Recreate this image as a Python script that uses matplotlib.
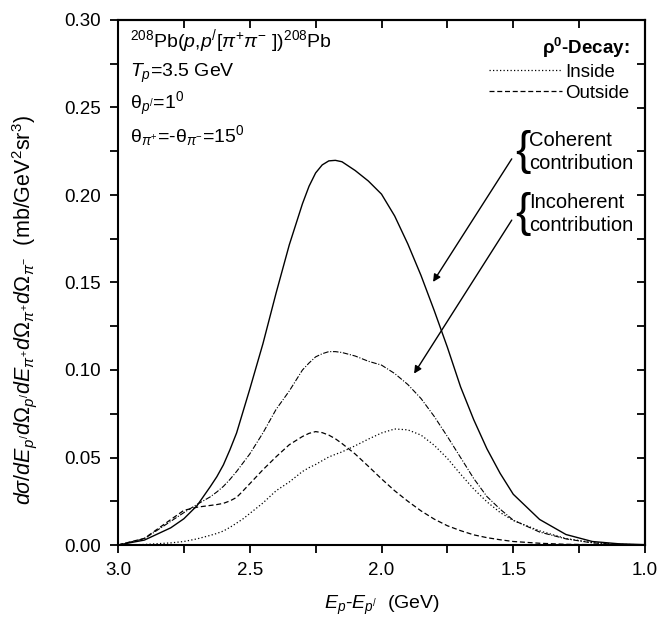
import matplotlib.pyplot as plt
from matplotlib.lines import Line2D
from matplotlib.ticker import MultipleLocator, FormatStrFormatter

plt.rcParams['font.family'] = ['Liberation Sans', 'DejaVu Sans']
plt.rcParams['mathtext.fontset'] = 'custom'
plt.rcParams['mathtext.rm'] = 'Liberation Sans'
plt.rcParams['mathtext.it'] = 'Liberation Sans:italic'
plt.rcParams['mathtext.bf'] = 'Liberation Sans:bold'

# E_p - E_p' (GeV)
energy = [3.0, 2.9, 2.8, 2.75, 2.7, 2.65, 2.625, 2.6, 2.575, 2.55, 2.525, 2.5, 2.45, 2.4,
          2.35, 2.3, 2.275, 2.25, 2.225, 2.2, 2.175, 2.15, 2.1, 2.05, 2.0, 1.95, 1.9,
          1.85, 1.8, 1.75, 1.7, 1.65, 1.6, 1.55, 1.5, 1.4, 1.3, 1.2, 1.1, 1.0]
# coherent contribution (solid)
coherent = [0.0, 0.0028, 0.0098, 0.015, 0.0225, 0.0333, 0.039, 0.0458, 0.0545, 0.064,
            0.0765, 0.089, 0.115, 0.144, 0.1715, 0.195, 0.205, 0.2126, 0.2172, 0.2195,
            0.2198, 0.219, 0.214, 0.208, 0.2005, 0.188, 0.172, 0.154, 0.134, 0.113,
            0.0904, 0.0716, 0.055, 0.041, 0.029, 0.0146, 0.006, 0.002, 0.0007, 0.0002]
# incoherent contribution (dash-dot)
incoherent = [0.0, 0.0036, 0.0135, 0.0185, 0.0232, 0.0275, 0.0303, 0.0335, 0.0375, 0.042,
              0.047, 0.052, 0.064, 0.0775, 0.088, 0.100, 0.104, 0.1075, 0.1093, 0.1105,
              0.1105, 0.110, 0.108, 0.105, 0.1028, 0.098, 0.0917, 0.0837, 0.0735, 0.062,
              0.050, 0.038, 0.0277, 0.0205, 0.0142, 0.0074, 0.0035, 0.0012, 0.0003, 0.0001]
# rho0 decay outside (dashed)
outside = [0.0, 0.0038, 0.0145, 0.0198, 0.0216, 0.0226, 0.0231, 0.0238, 0.0252, 0.0272,
           0.031, 0.035, 0.043, 0.0504, 0.0573, 0.062, 0.0638, 0.0648, 0.0642, 0.0628,
           0.0607, 0.058, 0.052, 0.045, 0.0378, 0.031, 0.025, 0.0195, 0.0148, 0.011,
           0.0082, 0.0058, 0.0042, 0.003, 0.002, 0.001, 0.0004, 0.0002, 0.0001, 0.0]
# rho0 decay inside (dotted)
inside = [0.0, 0.0003, 0.0012, 0.002, 0.0035, 0.0055, 0.0066, 0.008, 0.0101, 0.0125,
          0.015, 0.018, 0.024, 0.031, 0.036, 0.042, 0.0442, 0.046, 0.0482, 0.0503,
          0.0518, 0.0532, 0.0567, 0.0605, 0.064, 0.0663, 0.0658, 0.0628, 0.057, 0.0495,
          0.0405, 0.032, 0.0247, 0.0186, 0.014, 0.0081, 0.0037, 0.0014, 0.0004, 0.0001]

fig = plt.figure(figsize=(6.6, 6.29), dpi=100)
ax = fig.add_axes([118/660, 1-545/629, 527/660, 525/629])

ax.plot(energy, coherent, color='black', lw=1.0)
ax.plot(energy, incoherent, color='black', lw=0.8, ls=(0, (5, 1.5, 1, 1.5)))
ax.plot(energy, outside, color='black', lw=0.9, ls=(0, (4, 2.2)))
ax.plot(energy, inside, color='black', lw=0.9, ls=(0, (1, 1.8)))

ax.set_xlim(3.0, 1.0)
ax.set_ylim(0.0, 0.30)
ax.xaxis.set_major_locator(MultipleLocator(0.5))
ax.xaxis.set_minor_locator(MultipleLocator(0.25))
ax.yaxis.set_major_locator(MultipleLocator(0.05))
ax.yaxis.set_minor_locator(MultipleLocator(0.025))
ax.xaxis.set_major_formatter(FormatStrFormatter('%.1f'))
ax.yaxis.set_major_formatter(FormatStrFormatter('%.2f'))
ax.tick_params(which='major', direction='out', length=6, width=1.3, labelsize=13.5, pad=6)
ax.tick_params(which='minor', direction='out', length=6, width=1.3)
for s in ax.spines.values():
    s.set_linewidth(1.5)

# top / right ticks pointing inward
top = ax.secondary_xaxis('top')
top.xaxis.set_major_locator(MultipleLocator(0.25))
top.tick_params(direction='in', length=6, width=1.3, labeltop=False)
top.spines['top'].set_linewidth(1.5)
right = ax.secondary_yaxis('right')
right.yaxis.set_major_locator(MultipleLocator(0.025))
right.tick_params(direction='in', length=6, width=1.3, labelright=False)
right.spines['right'].set_linewidth(1.5)

ax.set_xlabel(r'$E_p$-$E_{p^{/}}$  (GeV)', fontsize=14, labelpad=11)
ax.set_ylabel(r'$d\sigma/dE_{p^{/}}d\Omega_{p^{/}}dE_{\pi^{+}}d\Omega_{\pi^{+}}d\Omega_{\pi^{-}}$  (mb/GeV$^{2}$sr$^{3}$)',
              fontsize=15.5)
ax.yaxis.set_label_coords(-0.15, 0.447)

# reaction info
info = [r'$^{208}$Pb($p$,$p^{/}$[$\pi^{+}\pi^{-}$ ])$^{208}$Pb',
        r'$T_p$=3.5 GeV',
        r'θ$_{p^{/}}$=1$^{0}$',
        r'θ$_{\pi^{+}}$=-θ$_{\pi^{-}}$=15$^{0}$']
info_y = [41, 73, 104, 136]
for t, py in zip(info, info_y):
    ax.text(0.022, (545 - py) / 525, t, transform=ax.transAxes, fontsize=14,
            ha='left', va='center')

# legend
handles = [Line2D([], [], color='black', lw=0.9, ls=(0, (1, 1.8))),
           Line2D([], [], color='black', lw=0.9, ls=(0, (4, 2.2)))]
leg = ax.legend(handles, ['Inside', 'Outside'], title=r'ρ$^{\mathbf{0}}$-Decay:',
                loc='upper right', frameon=False, fontsize=13.5, handlelength=3.9,
                handletextpad=0.15, labelspacing=0.2, borderaxespad=0.45,
                alignment='right', title_fontproperties={'weight': 'bold', 'size': 13.5})

# braces + labels
for label, py in [('Coherent\ncontribution', 152), ('Incoherent\ncontribution', 214)]:
    ax.text((515 - 118) / 527, (545 - py) / 525, '{', transform=ax.transAxes,
            fontsize=33, ha='left', va='center')
    ax.text((529 - 118) / 527, (545 - py) / 525, label, transform=ax.transAxes,
            fontsize=14.5, ha='left', va='center', linespacing=1.3)

arrow = dict(arrowstyle='-|>', color='black', lw=1.0, mutation_scale=11)
ax.annotate('', xy=(1.81, 0.149), xytext=(1.50, 0.222), arrowprops=arrow)
ax.annotate('', xy=(1.882, 0.0966), xytext=(1.50, 0.187), arrowprops=arrow)

fig.savefig('out.png', dpi=100)
